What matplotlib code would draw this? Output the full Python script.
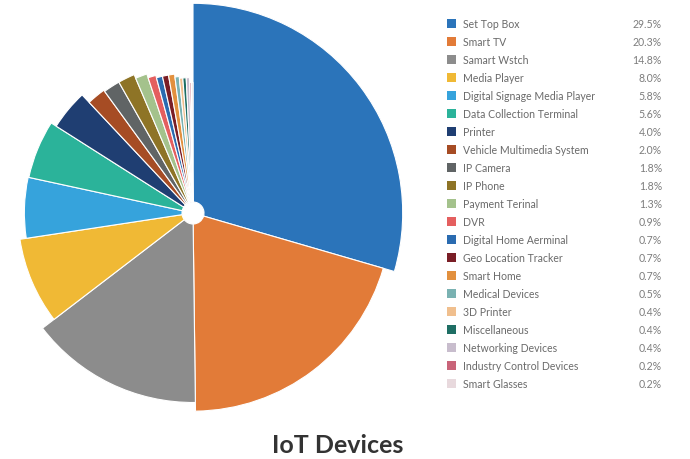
import matplotlib
matplotlib.use("Agg")
import matplotlib.pyplot as plt
from matplotlib.patches import Wedge, Rectangle
import numpy as np

categories = ["Set Top Box", "Smart TV", "Samart Wstch", "Media Player",
              "Digital Signage Media Player", "Data Collection Terminal", "Printer",
              "Vehicle Multimedia System", "IP Camera", "IP Phone", "Payment Terinal",
              "DVR", "Digital Home Aerminal", "Geo Location Tracker", "Smart Home",
              "Medical Devices", "3D Printer", "Miscellaneous", "Networking Devices",
              "Industry Control Devices", "Smart Glasses"]
values = [29.5, 20.3, 14.8, 8.0, 5.8, 5.6, 4.0, 2.0, 1.8, 1.8, 1.3,
          0.9, 0.7, 0.7, 0.7, 0.5, 0.4, 0.4, 0.4, 0.2, 0.2]
colors = ["#2B74BA", "#E27B38", "#8C8C8C", "#F0B935", "#36A3DC", "#2BB39A",
          "#1F3E72", "#A64C24", "#606465", "#8E7426", "#A4C28C", "#E45F5F",
          "#2A6BB0", "#7A1E26", "#E2903E", "#7AB2B2", "#F0BF8E", "#1E6E64",
          "#C8BDCD", "#C96479", "#E8D9DD"]
title = "IoT Devices"

plt.rcParams['font.family'] = ['Lato', 'DejaVu Sans']

W, H = 690, 460
fig = plt.figure(figsize=(W / 100, H / 100), dpi=100)
ax = fig.add_axes([0, 0, 1, 1])
ax.set_xlim(0, W)
ax.set_ylim(0, H)
ax.set_aspect('equal')
ax.axis('off')

cx, cy = 193, 246
hole = 11
total = sum(values)
start = 90.0
for v, c in zip(values, colors):
    sweep = v / total * 360.0
    r = 113 + 30.6 * v ** 0.34
    w = Wedge((cx, cy), r, start - sweep, start, width=r - hole,
              facecolor=c, edgecolor='white', linewidth=0.8)
    ax.add_patch(w)
    start -= sweep

# legend
y0, dy = H - 24.5, 18
for i, (name, v, c) in enumerate(zip(categories, values, colors)):
    y = y0 - i * dy
    ax.add_patch(Rectangle((447, y - 4.5), 9, 9, facecolor=c, edgecolor='none'))
    ax.text(463, y, name, fontsize=7.6, color='#6a6a6a', va='center', ha='left')
    ax.text(662, y, f"{v:.1f}%", fontsize=7.6, color='#7d7d7d', va='center', ha='right')

ax.text(338, H - 446, title, fontsize=18, fontweight='bold', color='#333333',
        ha='center', va='center')

fig.savefig("out.png", dpi=100)
